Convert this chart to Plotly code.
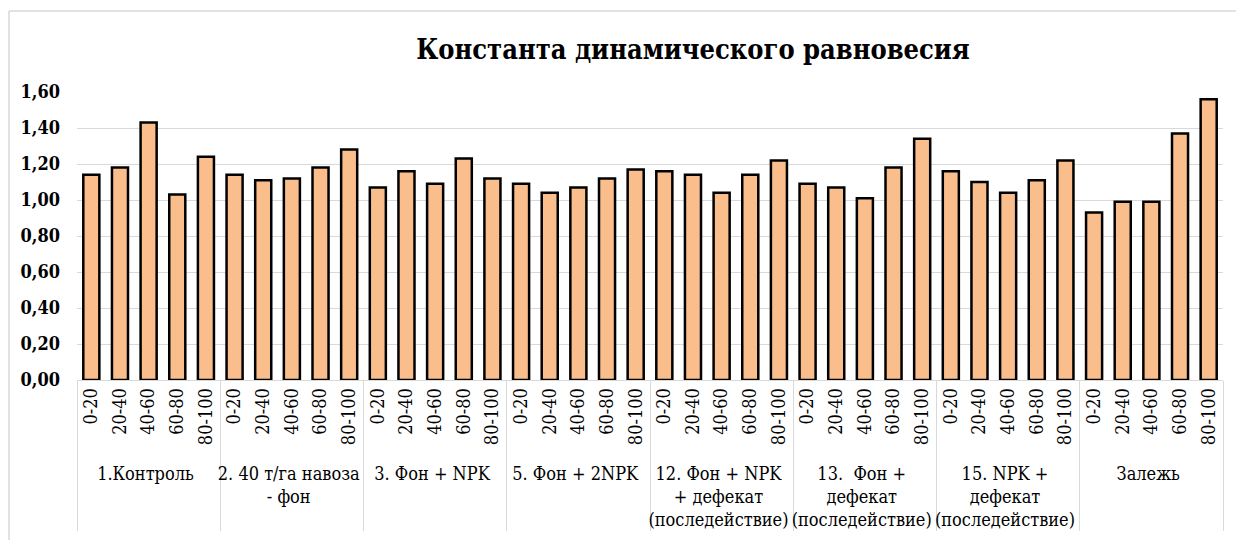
import plotly.graph_objects as go

# Treatment groups (outer category level)
groups = [
    "1.Контроль",
    "2. 40 т/га навоза<br>- фон",
    "3. Фон + NPK",
    "5. Фон + 2NPK",
    "12. Фон + NPK<br>+ дефекат<br>(последействие)",
    "13.  Фон +<br>дефекат<br>(последействие)",
    "15. NPK +<br>дефекат<br>(последействие)",
    "Залежь",
]
# Soil layers, cm (inner category level)
depths = ["0-20", "20-40", "40-60", "60-80", "80-100"]

# Dynamic equilibrium constant per group, by layer
values = {
    groups[0]: [1.14, 1.18, 1.43, 1.03, 1.24],
    groups[1]: [1.14, 1.11, 1.12, 1.18, 1.28],
    groups[2]: [1.07, 1.16, 1.09, 1.23, 1.12],
    groups[3]: [1.09, 1.04, 1.07, 1.12, 1.17],
    groups[4]: [1.16, 1.14, 1.04, 1.14, 1.22],
    groups[5]: [1.09, 1.07, 1.01, 1.18, 1.34],
    groups[6]: [1.16, 1.10, 1.04, 1.11, 1.22],
    groups[7]: [0.93, 0.99, 0.99, 1.37, 1.56],
}

y_ticks = [0.0, 0.2, 0.4, 0.6, 0.8, 1.0, 1.2, 1.4, 1.6]
y_tick_text = ["0,00", "0,20", "0,40", "0,60", "0,80", "1,00", "1,20", "1,40", "1,60"]

outer, inner, vals = [], [], []
for g in groups:
    for d, v in zip(depths, values[g]):
        outer.append(g)
        inner.append(d)
        vals.append(v)

SERIF = "DejaVu Serif Condensed, DejaVu Serif"

fig = go.Figure(
    go.Bar(
        x=[outer, inner],
        y=vals,
        marker=dict(color="#F9BE8C", line=dict(color="#000000", width=2.5)),
        width=0.56,
    )
)

W, H = 1236, 540
ML, MR, MT, MB = 77, 13, 92, 160
pw, ph = W - ML - MR, H - MT - MB

fig.update_layout(
    width=W,
    height=H,
    margin=dict(l=ML, r=MR, t=MT, b=MB, pad=0, autoexpand=False),
    paper_bgcolor="white",
    plot_bgcolor="white",
    showlegend=False,
    font=dict(family=SERIF, color="#000000", size=18),
    title=dict(
        text="<b>Константа динамического равновесия</b>",
        font=dict(family=SERIF, size=27, color="#000000"),
        x=693 / W,
        xanchor="center",
        xref="container",
        y=1 - 50 / H,
        yanchor="middle",
        yref="container",
    ),
    xaxis=dict(
        type="multicategory",
        tickangle=-90,
        automargin=False,
        showgrid=False,
        showline=True,
        linecolor="#D9D9D9",
        linewidth=1,
        ticks="",
        showdividers=True,
        dividercolor="#D9D9D9",
        dividerwidth=1,
        tickfont=dict(family=SERIF, size=18, color="#000000"),
    ),
    yaxis=dict(
        range=[0, 1.6],
        tickvals=y_ticks,
        ticktext=["<b>" + t + "</b>" for t in y_tick_text],
        automargin=False,
        showgrid=True,
        gridcolor="#D9D9D9",
        gridwidth=1,
        zeroline=False,
        showline=False,
        ticks="",
        ticklabelstandoff=16,
        tickfont=dict(family=SERIF, size=18, color="#000000"),
    ),
    shapes=[
        # chart-area frame (top and left edges)
        dict(type="line", xref="paper", yref="paper",
             x0=(9 - ML) / pw, x1=(W + 5 - ML) / pw,
             y0=1 + (MT - 11) / ph, y1=1 + (MT - 11) / ph,
             line=dict(color="#D9D9D9", width=1.5)),
        dict(type="line", xref="paper", yref="paper",
             x0=(9 - ML) / pw, x1=(9 - ML) / pw,
             y0=1 + (MT - 11) / ph, y1=-(MB + 5) / ph,
             line=dict(color="#D9D9D9", width=1.5)),
    ],
)

fig.write_html("out.html")
